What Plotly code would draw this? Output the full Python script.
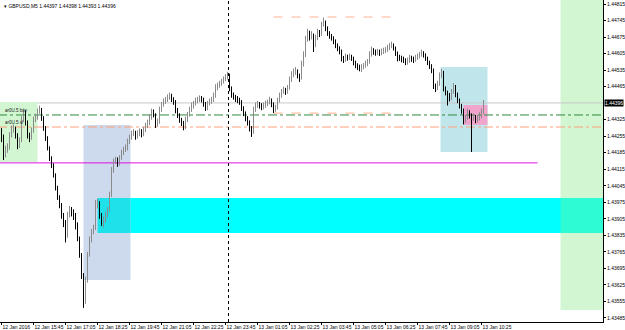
import plotly.graph_objects as go

# ---------------- data ----------------
closes = [
1.44252,1.44176,1.44197,1.44205,1.44260,1.44281,1.44290,1.44260,1.44218,1.44239,
1.44324,1.44358,1.44315,1.44260,1.44248,1.44281,1.44324,1.44332,1.44358,1.44366,
1.44332,1.44290,1.44248,1.44205,1.44163,1.44133,1.44091,1.44036,1.43998,1.43964,
1.43921,1.43892,1.43837,1.43921,1.43943,1.43934,1.43921,1.43879,1.43824,1.43752,
1.43667,1.43562,1.43646,1.43752,1.43816,1.43849,1.43866,1.43964,1.43972,1.43921,
1.43892,1.43900,1.43921,1.43943,1.44006,1.44112,1.44146,1.44154,1.44142,1.44163,
1.44184,1.44197,1.44205,1.44231,1.44248,1.44265,1.44269,1.44256,1.44265,1.44273,
1.44265,1.44281,1.44298,1.44311,1.44332,1.44358,1.44345,1.44303,1.44315,1.44366,
1.44387,1.44400,1.44409,1.44417,1.44425,1.44413,1.44400,1.44366,1.44345,1.44324,
1.44311,1.44294,1.44324,1.44345,1.44366,1.44383,1.44392,1.44404,1.44409,1.44413,
1.44409,1.44392,1.44375,1.44392,1.44400,1.44409,1.44425,1.44459,1.44468,1.44476,
1.44485,1.44493,1.44502,1.44514,1.44459,1.44430,1.44421,1.44413,1.44409,1.44400,
1.44375,1.44353,1.44332,1.44315,1.44290,1.44273,1.44366,1.44383,1.44392,1.44387,
1.44379,1.44383,1.44392,1.44396,1.44409,1.44392,1.44366,1.44375,1.44404,1.44425,
1.44442,1.44451,1.44442,1.44459,1.44493,1.44514,1.44527,1.44531,1.44514,1.44502,
1.44557,1.44599,1.44663,1.44696,1.44671,1.44684,1.44641,1.44671,1.44696,1.44688,
1.44726,1.44739,1.44713,1.44692,1.44680,1.44671,1.44658,1.44641,1.44629,1.44616,
1.44586,1.44578,1.44591,1.44586,1.44591,1.44586,1.44569,1.44557,1.44548,1.44544,
1.44548,1.44552,1.44561,1.44569,1.44599,1.44620,1.44612,1.44608,1.44612,1.44608,
1.44612,1.44616,1.44620,1.44629,1.44637,1.44641,1.44629,1.44608,1.44586,1.44586,
1.44582,1.44578,1.44569,1.44574,1.44586,1.44582,1.44578,1.44586,1.44591,1.44599,
1.44608,1.44599,1.44586,1.44569,1.44552,1.44536,1.44468,1.44459,1.44476,1.44510,
1.44527,1.44459,1.44442,1.44430,1.44417,1.44442,1.44468,1.44434,1.44409,1.44387,
1.44366,1.44324,1.44332,1.44358,1.44345,1.44332,1.44337,1.44324,1.44332,1.44341,
1.44358,1.44396]

highs = [
1.44290,1.44262,1.44215,1.44225,1.44272,1.44300,1.44305,1.44296,1.44268,1.44250,
1.44340,1.44372,1.44365,1.44322,1.44270,1.44292,1.44338,1.44350,1.44372,1.44385,
1.44375,1.44340,1.44298,1.44255,1.44212,1.44170,1.44140,1.44098,1.44045,1.44005,
1.43972,1.43930,1.43900,1.43935,1.43960,1.43955,1.43945,1.43930,1.43890,1.43830,
1.43760,1.43675,1.43660,1.43765,1.43830,1.43862,1.43880,1.43985,1.43990,1.43980,
1.43930,1.43915,1.43935,1.43955,1.44020,1.44125,1.44160,1.44168,1.44165,1.44175,
1.44198,1.44210,1.44220,1.44245,1.44262,1.44278,1.44285,1.44278,1.44280,1.44288,
1.44285,1.44295,1.44312,1.44325,1.44348,1.44372,1.44368,1.44352,1.44330,1.44380,
1.44400,1.44415,1.44422,1.44432,1.44440,1.44435,1.44420,1.44408,1.44375,1.44352,
1.44333,1.44320,1.44338,1.44358,1.44380,1.44398,1.44405,1.44418,1.44422,1.44428,
1.44425,1.44418,1.44400,1.44405,1.44415,1.44422,1.44440,1.44475,1.44482,1.44490,
1.44498,1.44508,1.44518,1.44528,1.44520,1.44466,1.44440,1.44430,1.44425,1.44418,
1.44408,1.44382,1.44360,1.44340,1.44322,1.44298,1.44380,1.44398,1.44405,1.44400,
1.44395,1.44398,1.44405,1.44410,1.44422,1.44415,1.44398,1.44388,1.44418,1.44440,
1.44455,1.44465,1.44460,1.44472,1.44508,1.44530,1.44542,1.44548,1.44538,1.44520,
1.44575,1.44615,1.44680,1.44710,1.44702,1.44700,1.44690,1.44685,1.44710,1.44705,
1.44740,1.44758,1.44745,1.44720,1.44700,1.44688,1.44678,1.44665,1.44648,1.44636,
1.44622,1.44595,1.44605,1.44600,1.44605,1.44600,1.44592,1.44575,1.44564,1.44558,
1.44560,1.44565,1.44575,1.44582,1.44615,1.44635,1.44628,1.44622,1.44625,1.44622,
1.44626,1.44630,1.44634,1.44642,1.44650,1.44656,1.44648,1.44635,1.44614,1.44600,
1.44596,1.44592,1.44585,1.44588,1.44600,1.44596,1.44592,1.44600,1.44605,1.44612,
1.44622,1.44615,1.44606,1.44592,1.44575,1.44560,1.44542,1.44478,1.44490,1.44525,
1.44540,1.44532,1.44466,1.44448,1.44438,1.44455,1.44480,1.44472,1.44440,1.44415,
1.44392,1.44372,1.44345,1.44372,1.44365,1.44352,1.44350,1.44345,1.44345,1.44356,
1.44372,1.44408]

lows = [
1.44230,1.44154,1.44165,1.44185,1.44198,1.44250,1.44270,1.44245,1.44200,1.44205,
1.44230,1.44315,1.44300,1.44245,1.44230,1.44240,1.44270,1.44315,1.44325,1.44350,
1.44320,1.44278,1.44235,1.44195,1.44150,1.44120,1.44080,1.44025,1.43985,1.43950,
1.43905,1.43870,1.43805,1.43825,1.43910,1.43915,1.43900,1.43860,1.43810,1.43740,
1.43650,1.43528,1.43545,1.43635,1.43745,1.43805,1.43840,1.43858,1.43950,1.43905,
1.43875,1.43868,1.43890,1.43912,1.43935,1.43998,1.44100,1.44138,1.44125,1.44130,
1.44155,1.44175,1.44188,1.44195,1.44222,1.44240,1.44255,1.44240,1.44245,1.44255,
1.44250,1.44255,1.44272,1.44290,1.44302,1.44325,1.44335,1.44290,1.44295,1.44308,
1.44358,1.44380,1.44392,1.44400,1.44410,1.44400,1.44388,1.44352,1.44332,1.44312,
1.44298,1.44280,1.44285,1.44315,1.44338,1.44358,1.44372,1.44385,1.44395,1.44400,
1.44398,1.44380,1.44362,1.44365,1.44385,1.44392,1.44400,1.44418,1.44450,1.44460,
1.44468,1.44478,1.44488,1.44495,1.44445,1.44418,1.44410,1.44400,1.44395,1.44388,
1.44362,1.44340,1.44318,1.44300,1.44275,1.44252,1.44265,1.44358,1.44375,1.44372,
1.44365,1.44368,1.44375,1.44382,1.44390,1.44378,1.44353,1.44358,1.44368,1.44398,
1.44418,1.44435,1.44430,1.44435,1.44452,1.44485,1.44505,1.44515,1.44500,1.44485,
1.44495,1.44550,1.44590,1.44655,1.44660,1.44665,1.44612,1.44632,1.44662,1.44675,
1.44680,1.44720,1.44700,1.44680,1.44668,1.44660,1.44645,1.44628,1.44615,1.44602,
1.44572,1.44565,1.44570,1.44575,1.44578,1.44574,1.44555,1.44543,1.44535,1.44530,
1.44527,1.44538,1.44545,1.44552,1.44562,1.44592,1.44600,1.44596,1.44598,1.44595,
1.44598,1.44603,1.44607,1.44612,1.44620,1.44628,1.44618,1.44595,1.44572,1.44574,
1.44568,1.44565,1.44556,1.44558,1.44566,1.44570,1.44565,1.44570,1.44578,1.44584,
1.44592,1.44588,1.44574,1.44556,1.44540,1.44522,1.44455,1.44442,1.44450,1.44468,
1.44502,1.44445,1.44428,1.44385,1.44402,1.44408,1.44435,1.44420,1.44395,1.44372,
1.44350,1.44305,1.44312,1.44325,1.44330,1.44188,1.44320,1.44310,1.44315,1.44322,
1.44332,1.44350]

first_open = 1.44270
opens = [first_open] + closes[:-1]

x_tick_bars = [0,16,32,48,64,80,96,112,128,144,160,176,192,208,224,240]
x_tick_labels = ["12 Jan 2016","12 Jan 15:45","12 Jan 17:05","12 Jan 18:25","12 Jan 19:45",
                 "12 Jan 21:05","12 Jan 22:25","12 Jan 23:45","13 Jan 01:05","13 Jan 02:25",
                 "13 Jan 03:45","13 Jan 05:05","13 Jan 06:25","13 Jan 07:45","13 Jan 09:05",
                 "13 Jan 10:25"]
y_tick_vals = [1.44815,1.44745,1.44675,1.44605,1.44535,1.44465,1.44325,1.44255,1.44185,1.44115,
               1.44045,1.43975,1.43905,1.43835,1.43765,1.43695,1.43625,1.43555,1.43485]
y_tick_labels = ["%.5f" % v for v in y_tick_vals]
current_price = 1.44396
buy_level = 1.44345
sl_level = 1.44294
level_labels = ["ar0U.5 buy", "ar0U.5 sl"]
title_text = "▾ GBPUSD,M5 1.44397 1.44398 1.44393 1.44396"

bars = list(range(len(closes)))

# ---------------- figure ----------------
fig = go.Figure()
fig.add_trace(go.Ohlc(
    x=bars, open=opens, high=highs, low=lows, close=closes,
    increasing=dict(line=dict(color="#8a8a8a", width=1)),
    decreasing=dict(line=dict(color="#000000", width=1)),
    tickwidth=0.2, showlegend=False, hoverinfo="skip"))

XMIN, XMAX = -0.75, 300.75
YMIN, YMAX = 1.43468, 1.44832

shapes = []
def rect(x0, x1, y0, y1, color):
    shapes.append(dict(type="rect", xref="x", yref="y", x0=x0, x1=x1, y0=y0, y1=y1,
                       fillcolor=color, line=dict(width=0), layer="below"))
def hline(x0, x1, y, color, dash="solid", width=1):
    shapes.append(dict(type="line", xref="x", yref="y", x0=x0, x1=x1, y0=y, y1=y,
                       line=dict(color=color, width=width, dash=dash), layer="below"))

# rectangles (background objects)
rect(XMIN - 1, 18, 1.44146, 1.44400, "#d2f5d2")
rect(279.5, XMAX + 2, 1.43519, YMAX + 0.001, "#d2f5d2")
rect(48, XMAX + 2, 1.43845, 1.43993, "#00ffff")
rect(279.5, XMAX + 2, 1.43845, 1.43993, "#2efad4")
rect(41, 64.5, 1.43646, 1.44303, "#cdd9ec")
rect(48, 64.5, 1.43845, 1.43993, "#1ee1e9")
rect(219.5, 243, 1.44188, 1.44548, "#c0e6ec")
rect(231, 243, 1.44303, 1.44387, "#f0a4cc")

# lines
hline(18, XMAX + 2, current_price, "#c8c8c8")
hline(XMIN - 1, XMAX + 2, buy_level, "#2e8b3e", dash="dashdot")
hline(XMIN - 1, XMAX + 2, sl_level, "#ffa07a", dash="dashdot")
hline(XMIN - 1, 268, 1.44142, "#e010e0")
hline(136, 194.5, 1.44760, "#ffb090", dash="dash")
hline(136, 194.5, 1.44353, "#ffb090", dash="dash")
shapes.append(dict(type="line", xref="x", yref="paper", x0=113.5, x1=113.5, y0=0, y1=1,
                   line=dict(color="#000000", width=1, dash="dot"), layer="above"))

fig.update_layout(
    width=625, height=330,
    margin=dict(l=0, r=22, t=0, b=8, autoexpand=False),
    paper_bgcolor="white", plot_bgcolor="white",
    shapes=shapes,
    font=dict(family="Liberation Sans", size=5, color="black"),
    xaxis=dict(range=[XMIN, XMAX], rangeslider=dict(visible=False), showgrid=False,
               zeroline=False, showline=True, linecolor="black", linewidth=1, mirror=False,
               tickmode="array", tickvals=x_tick_bars, ticktext=x_tick_labels,
               ticks="outside", ticklen=2, tickcolor="black", tickangle=0, automargin=False,
               ticklabelposition="outside right", ticklabelstandoff=0,
               tickfont=dict(size=5)),
    yaxis=dict(range=[YMIN, YMAX], side="right", showgrid=False, zeroline=False,
               showline=True, linecolor="black", linewidth=1, automargin=False,
               tickmode="array", tickvals=y_tick_vals, ticktext=y_tick_labels,
               ticks="outside", ticklen=2, tickcolor="black", ticklabelstandoff=0,
               tickfont=dict(size=5)),
    annotations=[
        dict(x=0.004, y=0.997, xref="paper", yref="paper", xanchor="left", yanchor="top",
             text=title_text, showarrow=False, font=dict(size=5, color="black")),
        dict(x=1.0, y=current_price, xref="paper", yref="y", xanchor="left", yanchor="middle",
             text="%.5f" % current_price, showarrow=False, bgcolor="black",
             font=dict(size=5, color="white"), borderpad=0, xshift=1),
        dict(x=0.005, y=buy_level, xref="paper", yref="y", xanchor="left", yanchor="bottom",
             text=level_labels[0], showarrow=False, font=dict(size=4.5, color="#202020")),
        dict(x=0.005, y=sl_level, xref="paper", yref="y", xanchor="left", yanchor="bottom",
             text=level_labels[1], showarrow=False, font=dict(size=4.5, color="#202020")),
    ],
)

fig.write_html("out.html")
